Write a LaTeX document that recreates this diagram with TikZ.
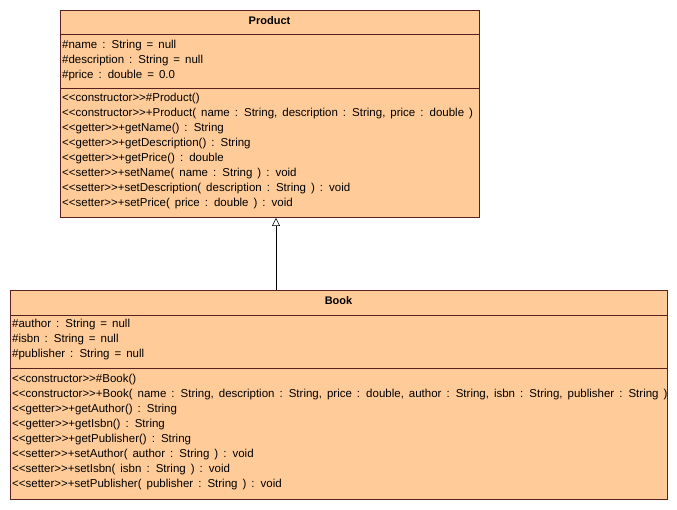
\documentclass[tikz,border=0pt]{standalone}
\usepackage{fontspec}
\setmainfont{Liberation Sans}[Ligatures=TeXOff]
\usetikzlibrary{arrows.meta}
\definecolor{boxfill}{HTML}{FFCC99}
\definecolor{boxline}{HTML}{5A2020}
\newcommand{\memberfont}{\fontsize{11.5}{13}\selectfont\spaceskip=5pt plus 0pt minus 0pt\relax}
\begin{document}
\begin{tikzpicture}[x=1pt,y=-1pt,
  classbox/.style={draw=boxline, fill=boxfill, line width=0.9pt, inner sep=0pt, anchor=north west},
  divider/.style={draw=boxline, line width=0.9pt},
  member/.style={anchor=west, inner sep=0pt, text height=8pt, text depth=3pt, font=\memberfont},
  title/.style={inner sep=0pt, font=\fontsize{11}{13}\selectfont\bfseries},
  inherit/.style={draw=black, line width=0.6pt, -{Triangle[open, width=8pt, length=8pt]}}
]
\useasboundingbox (0,0) rectangle (677,510);
% Product
\node[classbox, minimum width=419pt, minimum height=207pt] (product) at (60,10) {};
\draw[divider] (60,34) -- (479,34);
\draw[divider] (60,88) -- (479,88);
\node[title] (ptitle) at (269.5,21) {Product};
\node[member] (pa1) at (62,46.5) {\#name : String = null};
\node[member] (pa2) at (62,61.5) {\#description : String = null};
\node[member] (pa3) at (62,76.5) {\#price : double = 0.0};
\node[member] (pm1) at (62,99.5) {<<constructor>>\#Product()};
\node[member] (pm2) at (62,114.5) {<<constructor>>+Product( name : String, description : String, price : double )};
\node[member] (pm3) at (62,129.5) {<<getter>>+getName() : String};
\node[member] (pm4) at (62,144.5) {<<getter>>+getDescription() : String};
\node[member] (pm5) at (62,159.5) {<<getter>>+getPrice() : double};
\node[member] (pm6) at (62,174.5) {<<setter>>+setName( name : String ) : void};
\node[member] (pm7) at (62,189.5) {<<setter>>+setDescription( description : String ) : void};
\node[member] (pm8) at (62,204.5) {<<setter>>+setPrice( price : double ) : void};
% Book
\node[classbox, minimum width=657pt, minimum height=209pt] (book) at (10,290) {};
\draw[divider] (10,315) -- (667,315);
\draw[divider] (10,368) -- (667,368);
\node[title] (btitle) at (338.5,301) {Book};
\node[member] (ba1) at (12,325.5) {\#author : String = null};
\node[member] (ba2) at (12,340.5) {\#isbn : String = null};
\node[member] (ba3) at (12,355.5) {\#publisher : String = null};
\node[member] (bm1) at (12,379.5) {<<constructor>>\#Book()};
\node[member] (bm2) at (12,394.5) {<<constructor>>+Book( name : String, description : String, price : double, author : String, isbn : String, publisher : String )};
\node[member] (bm3) at (12,409.5) {<<getter>>+getAuthor() : String};
\node[member] (bm4) at (12,424.5) {<<getter>>+getIsbn() : String};
\node[member] (bm5) at (12,439.5) {<<getter>>+getPublisher() : String};
\node[member] (bm6) at (12,454.5) {<<setter>>+setAuthor( author : String ) : void};
\node[member] (bm7) at (12,469.5) {<<setter>>+setIsbn( isbn : String ) : void};
\node[member] (bm8) at (12,484.5) {<<setter>>+setPublisher( publisher : String ) : void};
% Generalization
\draw[inherit] (book.north -| 276,0) -- (product.south -| 276,0);
\end{tikzpicture}
\end{document}
